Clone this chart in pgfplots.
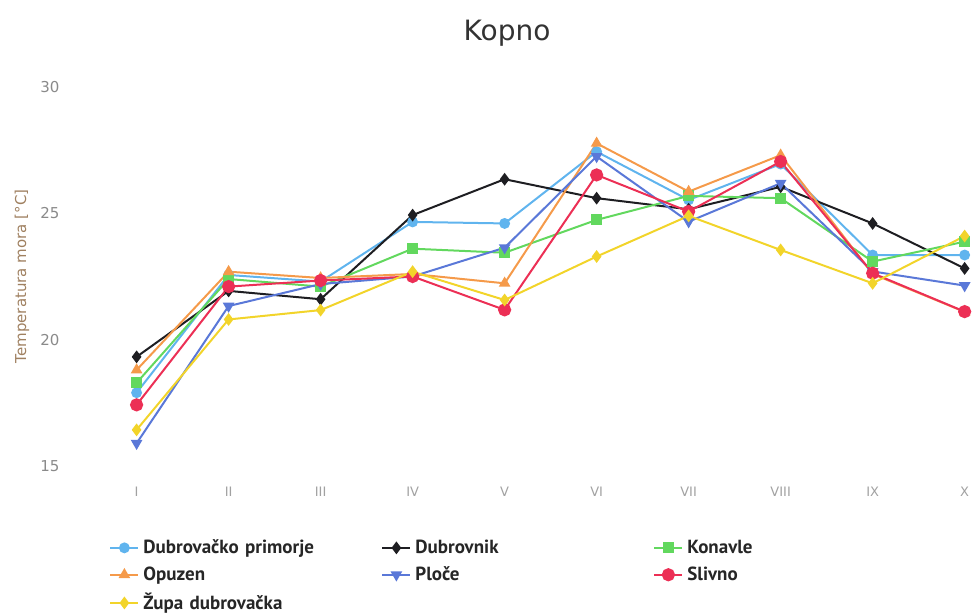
\documentclass[border=0pt]{standalone}
\usepackage{fontspec}
\setmainfont{DejaVu Sans}
\newfontfamily\legfont{PT Sans}
\usepackage{pgfplots}
\pgfplotsset{compat=1.18}
\definecolor{cLB}{HTML}{60B4EE}
\definecolor{cBK}{HTML}{1E1E22}
\definecolor{cGR}{HTML}{62D85E}
\definecolor{cOR}{HTML}{F59A4A}
\definecolor{cPL}{HTML}{5A78D8}
\definecolor{cSL}{HTML}{EC2F55}
\definecolor{cZU}{HTML}{F2D42A}
\definecolor{tick}{HTML}{8A8A8A}
\begin{document}
\begin{tikzpicture}
\path[use as bounding box] (-54.5pt,-74pt) rectangle (432pt,233pt);
\begin{axis}[
  scale only axis, width=431.5pt, height=189.5pt,
  xmin=-0.3, xmax=9.08, ymin=15, ymax=30,
  clip=false,
  /pgf/number format/assume math mode=true,
  axis line style={draw=none}, tick style={draw=none},
  xtick={0,...,9}, xticklabels={I,II,III,IV,V,VI,VII,VIII,IX,X},
  ytick={15,20,25,30},
  every x tick label/.style={anchor=center, yshift=-13pt, font=\fontsize{6.5}{7}\selectfont, text=tick!80},
  every y tick label/.style={anchor=center, xshift=-29.5pt, font=\fontsize{7.5}{8}\selectfont, text=tick},
  ylabel={Temperatura mora [°C]},
  every axis y label/.style={at={([xshift=-43.5pt]axis description cs:0,0.5)}, rotate=90, anchor=center, font=\fontsize{7.5}{8}\selectfont, text=brown!50!gray},
  title={Kopno},
  every axis title/.style={at={([xshift=-16.75pt,yshift=27pt]axis description cs:0.5,1)}, anchor=center, font=\fontsize{14}{16}\selectfont, text=black!80},
  legend columns=3,
  legend cell align=left,
  legend style={at={([yshift=-34.5pt]axis description cs:0,0)}, anchor=north west, draw=none, fill=none, inner sep=0pt, row sep=1pt,
    font=\legfont\bfseries\fontsize{9.5}{11}\selectfont,
    nodes={text width=117pt, inner xsep=2pt, text=black!85}},
  legend image code/.code={\draw[mark repeat=2,mark phase=2] plot coordinates {(0pt,0pt) (7pt,0pt) (14pt,0pt)};},
  every axis plot/.append style={line width=1pt},
]
\addplot[cLB, mark=*, mark size=2.2pt] coordinates {(0,17.9)(1,22.56)(2,22.3)(3,24.66)(4,24.6)(5,27.44)(6,25.53)(7,26.95)(8,23.35)(9,23.35)};
\addlegendentry{Dubrovačko primorje}
\addplot[cBK, mark=diamond*, mark size=2.4pt] coordinates {(0,19.32)(1,21.93)(2,21.6)(3,24.93)(4,26.35)(5,25.6)(6,25.16)(7,26.05)(8,24.6)(9,22.82)};
\addlegendentry{Dubrovnik}
\addplot[cGR, mark=square*, mark size=2.2pt] coordinates {(0,18.29)(1,22.4)(2,22.1)(3,23.6)(4,23.44)(5,24.74)(6,25.69)(7,25.6)(8,23.09)(9,23.88)};
\addlegendentry{Konavle}
\addplot[cOR, mark=triangle*, mark size=2.4pt] coordinates {(0,18.8)(1,22.69)(2,22.44)(3,22.6)(4,22.23)(5,27.77)(6,25.86)(7,27.3)(8,22.6)(9,21.1)};
\addlegendentry{Opuzen}
\addplot[cPL, mark=triangle*, mark options={rotate=180}, mark size=2.4pt] coordinates {(0,15.9)(1,21.33)(2,22.2)(3,22.5)(4,23.64)(5,27.25)(6,24.67)(7,26.19)(8,22.7)(9,22.14)};
\addlegendentry{Ploče}
\addplot[cSL, mark=*, mark size=2.8pt] coordinates {(0,17.42)(1,22.1)(2,22.34)(3,22.5)(4,21.18)(5,26.52)(6,25.07)(7,27.05)(8,22.63)(9,21.11)};
\addlegendentry{Slivno}
\addplot[cZU, mark=diamond*, mark size=2.4pt] coordinates {(0,16.43)(1,20.8)(2,21.17)(3,22.69)(4,21.57)(5,23.29)(6,24.9)(7,23.55)(8,22.23)(9,24.1)};
\addlegendentry{Župa dubrovačka}
\end{axis}
\end{tikzpicture}
\end{document}
